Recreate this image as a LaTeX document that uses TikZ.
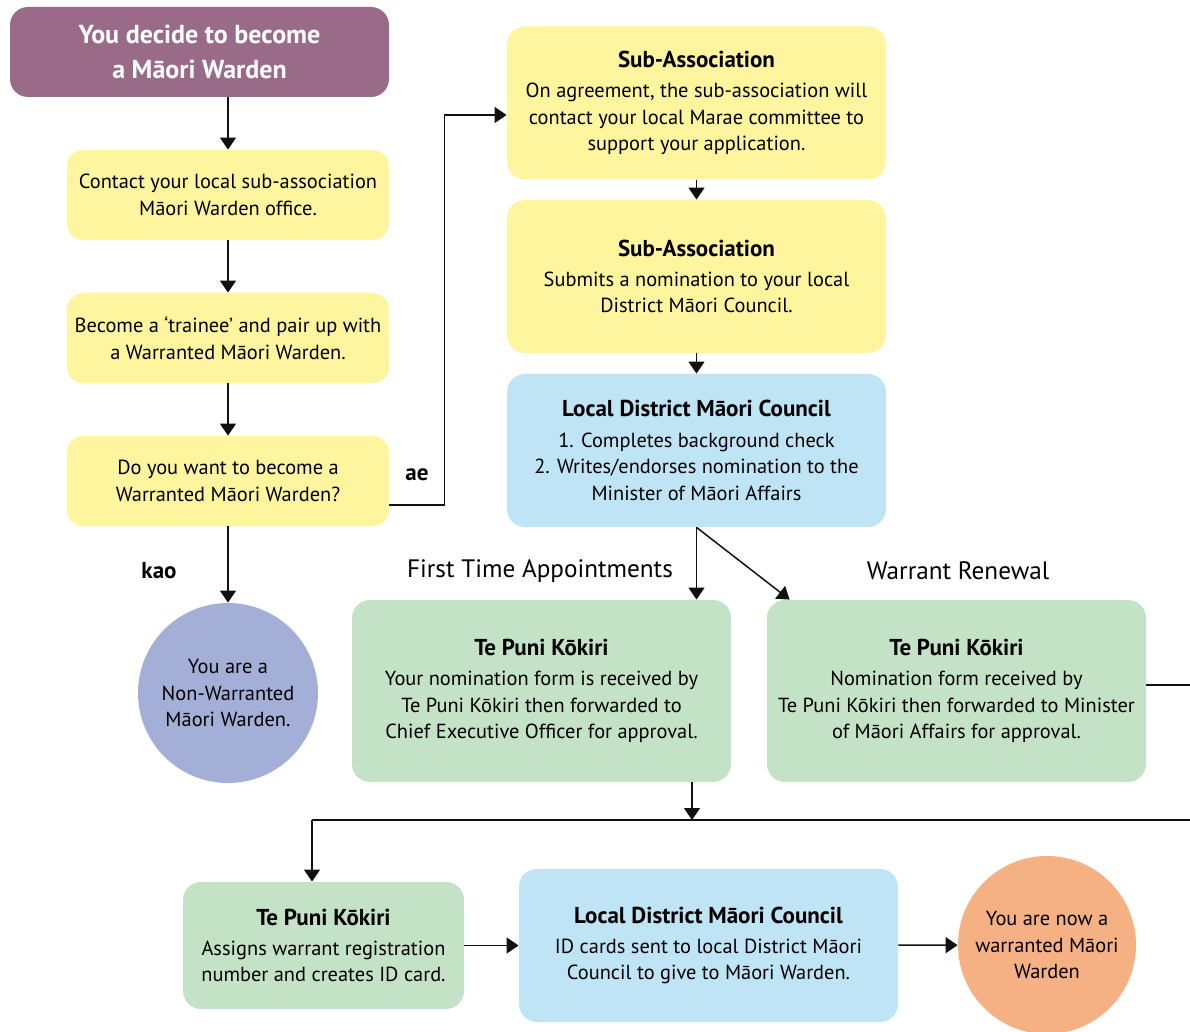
\documentclass[tikz,border=0pt]{standalone}
\usepackage{fontspec}
\setmainfont{PT Sans}
\usetikzlibrary{arrows.meta}

\definecolor{wardpurple}{HTML}{9A6B88}
\definecolor{wardyellow}{HTML}{FFF59E}
\definecolor{wardblue}{HTML}{BFE4F6}
\definecolor{wardgreen}{HTML}{C4E2C6}
\definecolor{wardlilac}{HTML}{A4AFD7}
\definecolor{wardorange}{HTML}{F5B184}
\definecolor{wardline}{HTML}{111111}

\tikzset{
  card/.style={rounded corners=9pt, align=center, inner sep=2pt,
    font=\fontsize{10.2}{13.3}\selectfont},
  leftcard/.style={card, fill=wardyellow, rounded corners=8pt,
    minimum width=161pt, minimum height=45pt},
  bigcard/.style={card, minimum width=189.5pt, minimum height=76.5pt},
  disc/.style={circle, align=center, inner sep=0pt, minimum size=90pt,
    font=\fontsize{10.2}{13.3}\selectfont},
  flow/.style={draw=wardline, line width=0.75pt,
    -{Triangle[length=6pt,width=8pt]}},
  wire/.style={draw=wardline, line width=0.75pt},
  tag/.style={font=\fontsize{11.5}{13}\selectfont\bfseries},
  heading/.style={font=\fontsize{12.6}{14}\selectfont}
}
\newcommand{\cardtitle}[1]{{\fontsize{11.5}{13.3}\selectfont\bfseries #1}\\[1.8pt]}

\begin{document}
\begin{tikzpicture}[x=0.5pt,y=-0.5pt]
            \useasboundingbox (0,0) rectangle (1190,1032);
            % left column
            \node[card, fill=wardpurple, text=white, minimum width=189.5pt, minimum height=45pt,
                  font=\fontsize{13}{17.5}\selectfont\bfseries] (start) at (199.5,52)
                  {You decide to become\\a Māori Warden};
            \node[leftcard] (contact) at (228,195) {Contact your local sub-association\\Māori Warden office.};
            \node[leftcard] (trainee) at (228,338) {Become a ‘trainee’ and pair up with\\a Warranted Māori Warden.};
            \node[leftcard] (want) at (228,481) {Do you want to become a\\Warranted Māori Warden?};
            \node[disc, fill=wardlilac] (nonwarr) at (228,693) {You are a\\Non-Warranted\\Māori Warden.};
            \node[tag] (kao) at (159,571) {kao};
            \node[tag] (ae) at (417,475) {ae};
            % middle column
            \node[bigcard, fill=wardyellow] (subone) at (696.5,103)
                  {\cardtitle{Sub-Association}On agreement, the sub-association will\\contact your local Marae committee to\\support your application.};
            \node[bigcard, fill=wardyellow] (subtwo) at (696.5,276.5)
                  {\cardtitle{Sub-Association}Submits a nomination to your local\\District Māori Council.};
            \node[bigcard, fill=wardblue] (council) at (696.5,450.5)
                  {\cardtitle{Local District Māori Council}1. Completes background check\\2. Writes/endorses nomination to the\\Minister of Māori Affairs};
            \node[heading] (firsttime) at (540,571) {First Time Appointments};
            \node[heading] (renewal) at (958,571) {Warrant Renewal};
            \node[bigcard, fill=wardgreen, minimum height=91pt] (tpkfirst) at (541.5,691)
                  {\cardtitle{Te Puni Kōkiri}Your nomination form is received by\\Te Puni Kōkiri then forwarded to\\Chief Executive Officer for approval.};
            \node[bigcard, fill=wardgreen, minimum height=91pt] (tpkrenew) at (956.5,691)
                  {\cardtitle{Te Puni Kōkiri}Nomination form received by\\Te Puni Kōkiri then forwarded to Minister\\of Māori Affairs for approval.};
            % bottom row
            \node[bigcard, fill=wardgreen, minimum width=140.5pt, minimum height=63.5pt] (tpkcard) at (323.5,945.5)
                  {\cardtitle{Te Puni Kōkiri}Assigns warrant registration\\number and creates ID card.};
            \node[bigcard, fill=wardblue] (idcards) at (708.5,945.5)
                  {\cardtitle{Local District Māori Council}ID cards sent to local District Māori\\Council to give to Māori Warden.};
            \node[disc, fill=wardorange, minimum size=89pt] (done) at (1047,945) {You are now a\\warranted Māori\\Warden};
            % junction points
            \coordinate (edgeA) at (1190,685);
            \coordinate (edgeB) at (1190,820);
            \coordinate (split) at (692,820);
            \coordinate (turn) at (312,820);
            % connectors
            \draw[flow] (start.south -| contact.north) -- (contact.north);
            \draw[flow] (contact) -- (trainee);
            \draw[flow] (trainee) -- (want);
            \draw[flow] (want) -- (nonwarr);
            \draw[flow] ([yshift=-12pt]want.east) -- ++(55,0) |- ([yshift=-6pt]subone.west);
            \draw[flow] (subone) -- (subtwo);
            \draw[flow] (subtwo) -- (council);
            \draw[flow] (council.south) -- (council.south |- tpkfirst.north);
            \draw[flow] (council.south) -- ([xshift=11.5pt]tpkrenew.north west);
            \draw[wire] ([yshift=3pt]tpkrenew.east) -- (edgeA);
            \draw[flow] (tpkfirst.south -| split) -- (split);
            \draw[wire] (edgeB) -- (turn);
            \draw[flow] (turn) -- (turn |- tpkcard.north);
            \draw[flow] (tpkcard) -- (idcards);
            \draw[flow] (idcards) -- (done);
        \end{tikzpicture}
\end{document}
